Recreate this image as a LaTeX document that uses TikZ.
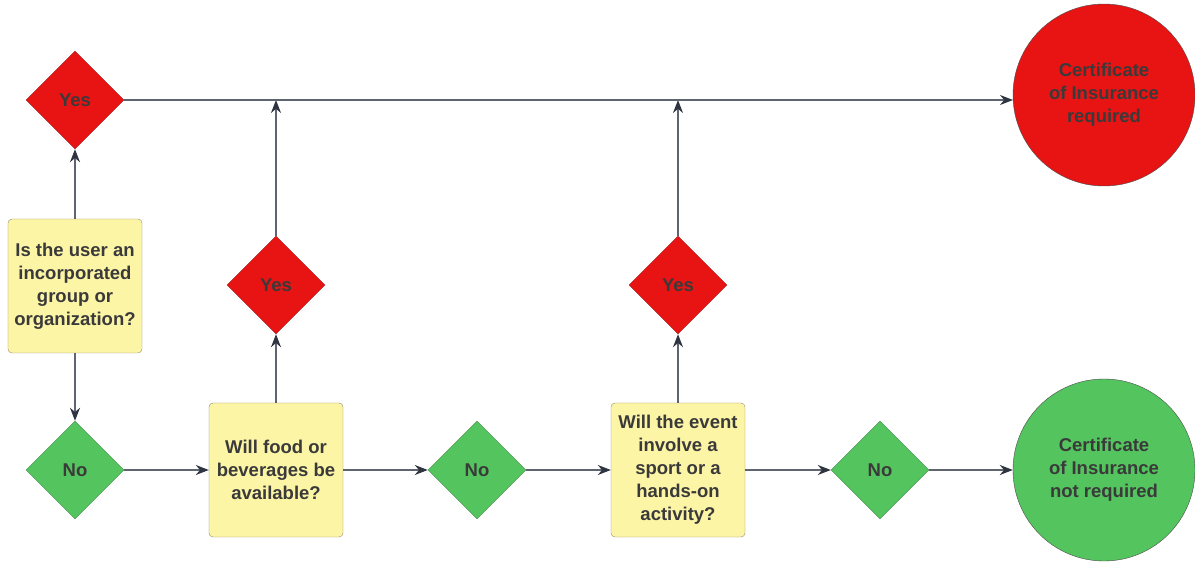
\documentclass[tikz,border=0pt]{standalone}
\usepackage{fontspec}
\setmainfont{Liberation Sans}
\usetikzlibrary{shapes.geometric,arrows.meta}
\definecolor{yesred}{HTML}{E81313}
\definecolor{yesedge}{HTML}{A81818}
\definecolor{nogreen}{HTML}{54C45E}
\definecolor{noedge}{HTML}{3E8E46}
\definecolor{qyellow}{HTML}{FDF5A6}
\definecolor{qedge}{HTML}{8F8C6A}
\definecolor{ink}{HTML}{3A3A3A}
\definecolor{wire}{HTML}{5E6470}
\definecolor{tip}{HTML}{2E3440}

\begin{document}
\begin{tikzpicture}[x=1pt,y=-1pt,
    every node/.style={font=\fontsize{18.5}{23}\selectfont\bfseries,text=ink,align=center},
    yes/.style={shape=diamond,fill=yesred,draw=yesedge,minimum size=98pt,inner sep=0pt},
    no/.style={shape=diamond,fill=nogreen,draw=noedge,minimum size=98pt,inner sep=0pt},
    question/.style={shape=rectangle,fill=qyellow,draw=qedge,minimum width=134pt,minimum height=134pt,inner sep=0pt,rounded corners=4pt},
    result/.style={shape=circle,draw=black!70,minimum size=182pt,inner sep=0pt},
    >={Stealth[length=13pt,width=10pt,color=tip]}]
            \useasboundingbox (0,0) rectangle (1195,569);

            \node[yes] (yestop) at (75,100) {Yes};
            \node[question] (user) at (75,286) {Is the user an\\incorporated\\group or\\organization?};
            \node[no] (nouser) at (75,470) {No};

            \node[question] (food) at (276,470) {Will food or\\beverages be\\available?};
            \node[yes] (yesfood) at (276,285) {Yes};
            \node[no] (nofood) at (477,470) {No};

            \node[question] (sport) at (678,470) {Will the event\\involve a\\sport or a\\hands-on\\activity?};
            \node[yes] (yessport) at (678,285) {Yes};
            \node[no] (nosport) at (880,470) {No};

            \node[result,fill=yesred] (required) at (1104,95) {Certificate\\of Insurance\\required};
            \node[result,fill=nogreen] (notrequired) at (1104,470) {Certificate\\of Insurance\\not required};

            \coordinate (joinfood) at (276,100);
            \coordinate (joinsport) at (678,100);
            \coordinate (intoreq) at (1013,100);

            \path [->,draw=wire,line width=1.3pt] (user) edge (yestop);
            \path [->,draw=wire,line width=1.3pt] (user) edge (nouser);
            \path [->,draw=wire,line width=1.3pt] (nouser) edge (food);
            \path [->,draw=wire,line width=1.3pt] (food) edge (yesfood);
            \path [->,draw=wire,line width=1.3pt] (yesfood) edge (joinfood);
            \path [->,draw=wire,line width=1.3pt] (food) edge (nofood);
            \path [->,draw=wire,line width=1.3pt] (nofood) edge (sport);
            \path [->,draw=wire,line width=1.3pt] (sport) edge (yessport);
            \path [->,draw=wire,line width=1.3pt] (yessport) edge (joinsport);
            \path [->,draw=wire,line width=1.3pt] (sport) edge (nosport);
            \path [->,draw=wire,line width=1.3pt] (nosport) edge (notrequired);
            \path [->,draw=wire,line width=1.3pt] (yestop) edge (intoreq);
        \end{tikzpicture}
\end{document}
